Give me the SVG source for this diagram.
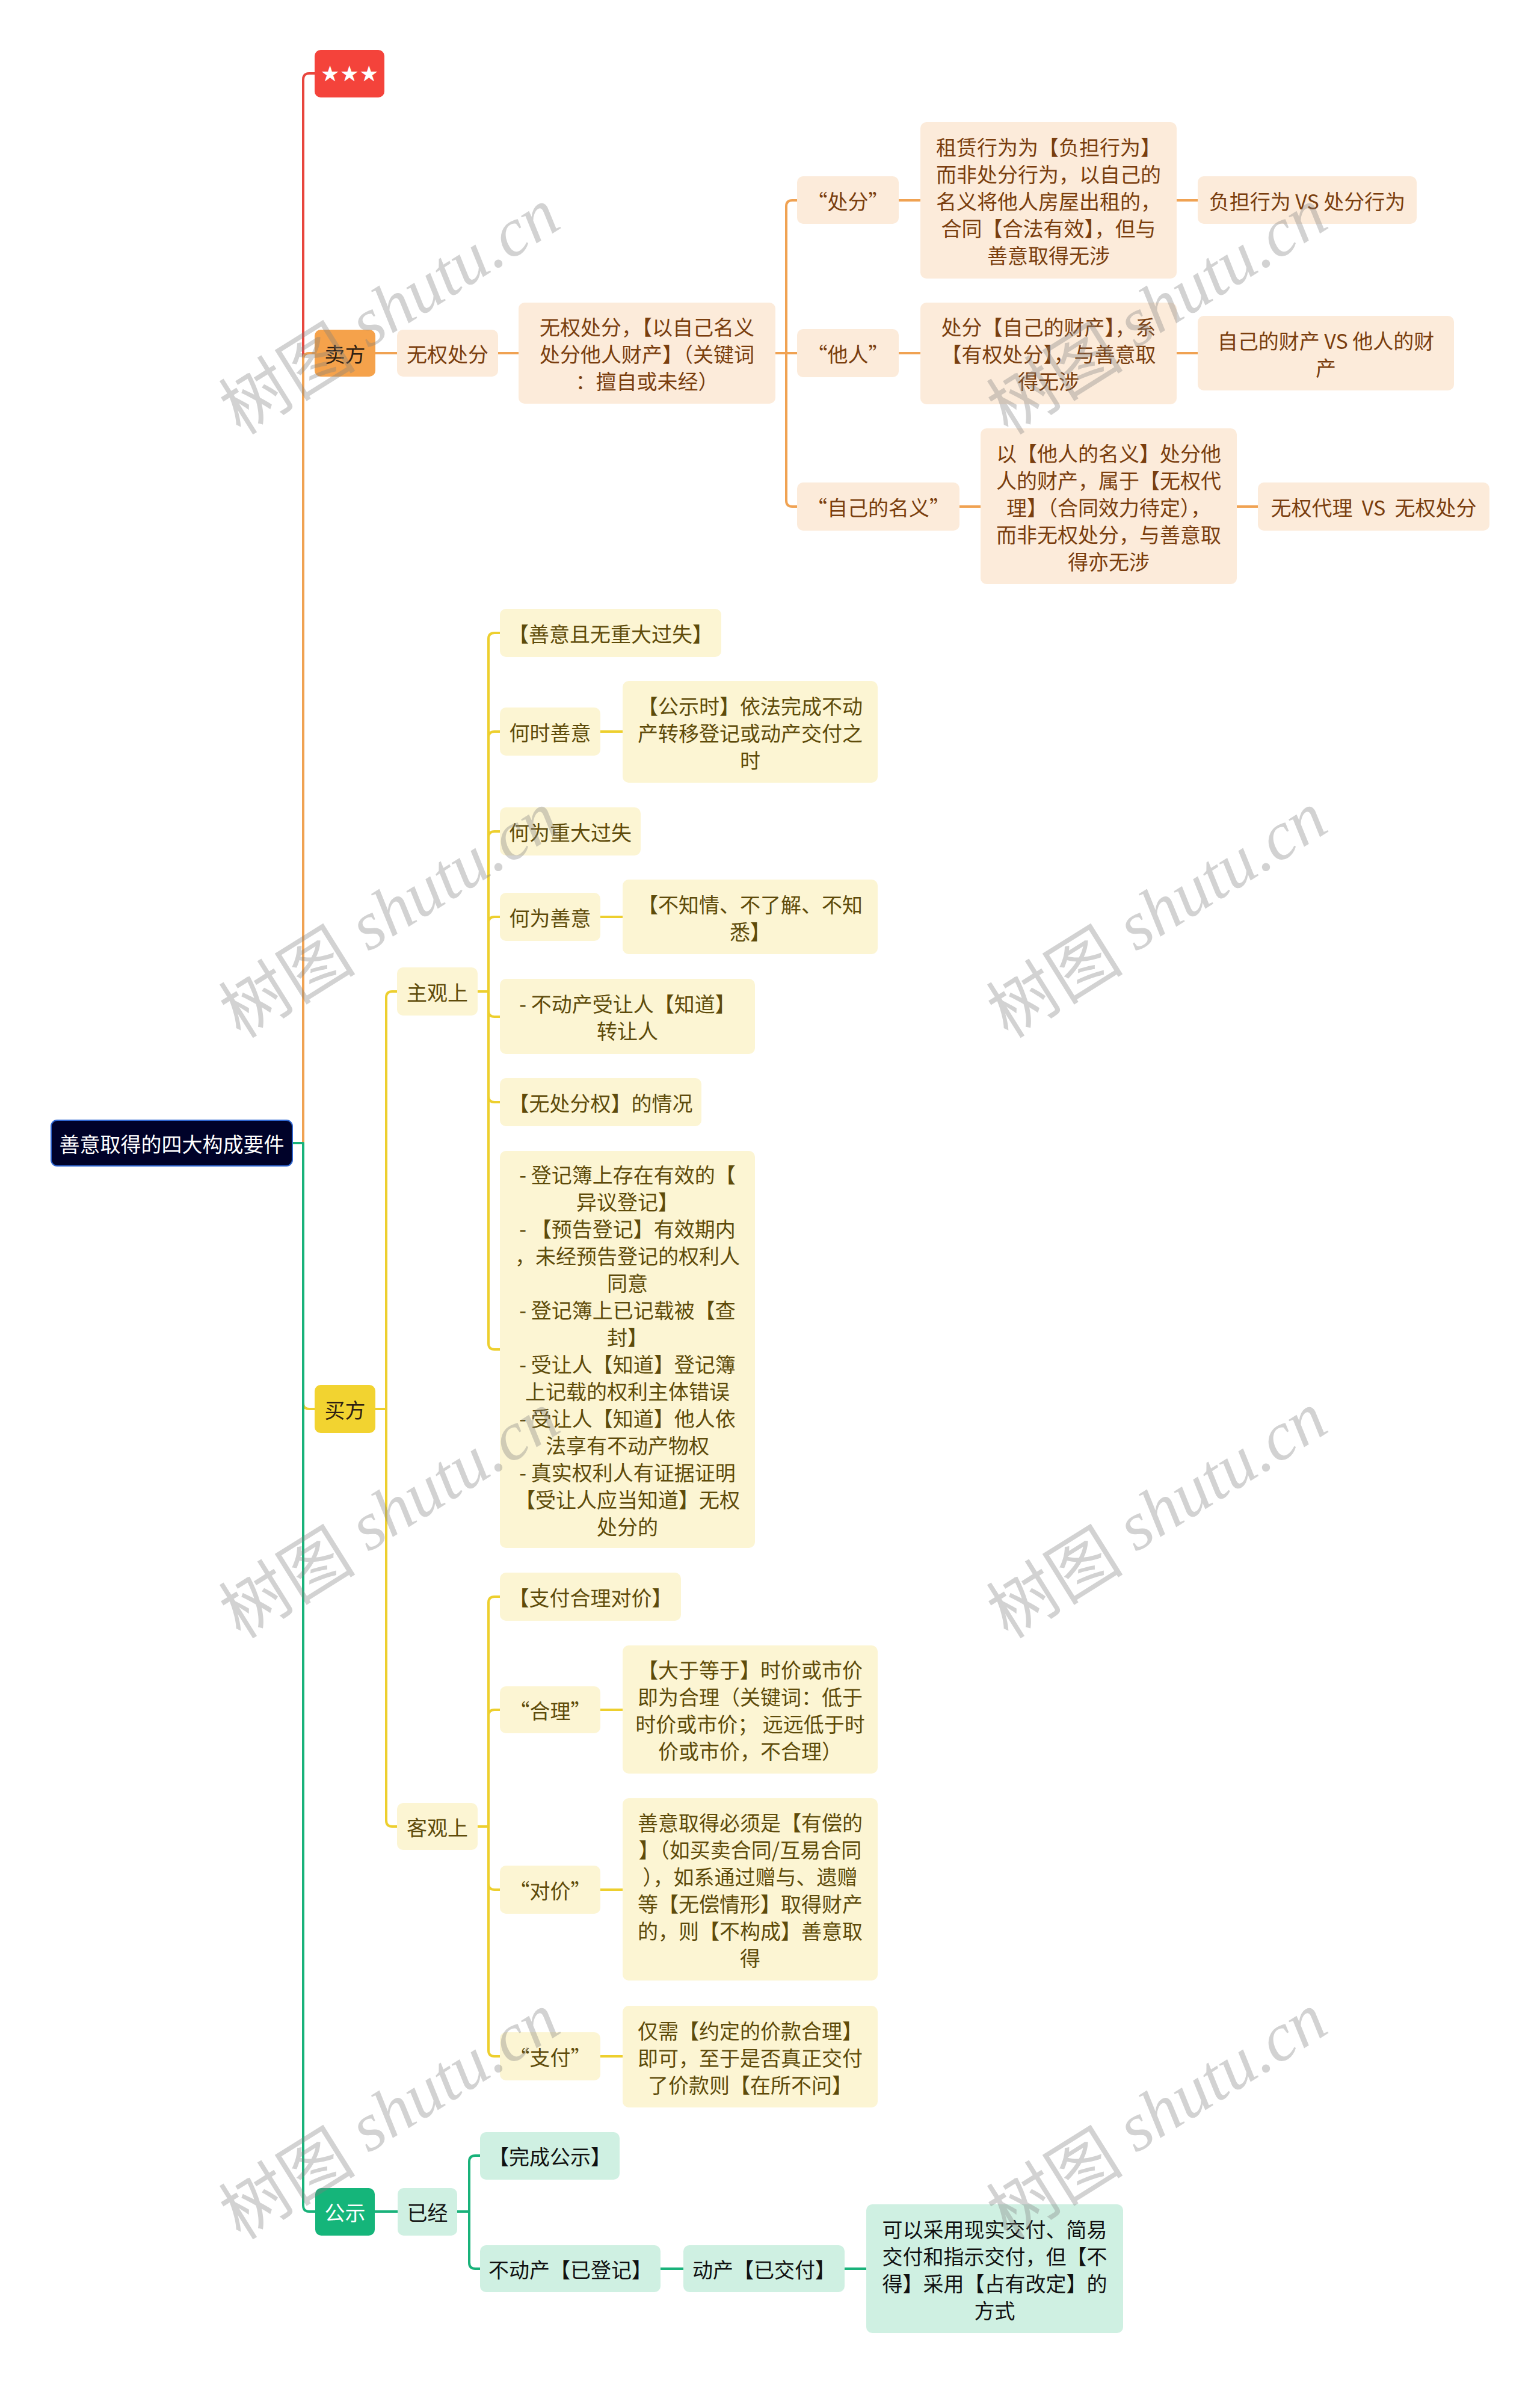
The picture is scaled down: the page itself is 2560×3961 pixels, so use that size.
<svg xmlns="http://www.w3.org/2000/svg" width="2560" height="3961" viewBox="0 0 2560 3961">
<style>
text{font-family:"Noto Sans CJK SC","Noto Sans",sans-serif;font-size:34px;text-anchor:middle;dominant-baseline:central;white-space:pre}
.c{fill:none;stroke-width:4;stroke-linecap:round;stroke-linejoin:round}
.cr{stroke:#E8463D}.co{stroke:#F0A252}.cy{stroke:#EDCF2E}.cg{stroke:#19B27A}
.o1{fill:#F5A24B}.o2{fill:#FCEBDA}.y1{fill:#F2D330}.y2{fill:#FCF5D3}.g1{fill:#15B57A}.g2{fill:#CFF0E2}
.to{fill:#7A3E0E}.ty{fill:#5E4B0A}.tg{fill:#111111}.tk{fill:#2E2012}
.wm{fill:#808080;opacity:0.35;font-size:114px}
</style>
<rect width="2560" height="3961" fill="#ffffff"/>
<g id="connectors">
<path class="c cr" d="M486,1900 H504 V132 Q504,122 514,122 H523"/>
<path class="c co" d="M486,1900 H504 V597 Q504,587 514,587 H523"/>
<path class="c cy" d="M486,1900 H504 V2332 Q504,2342 514,2342 H523"/>
<path class="c cg" d="M486,1900 H504 V3666 Q504,3676 514,3676 H524"/>
<path class="c co" d="M624,587 H660 M828,587 H862 M1289,587 H1325"/>
<path class="c co" d="M1289,587 H1307 V343 Q1307,333 1317,333 H1325"/>
<path class="c co" d="M1289,587 H1307 V832 Q1307,842 1317,842 H1325"/>
<path class="c co" d="M1494,333 H1530 M1956,333 H1991 M1494,587 H1530 M1956,587 H1991 M1595,842 H1630 M2056,842 H2091"/>
<path class="c cy" d="M624,2342 H642 V1658 Q642,1648 652,1648 H660"/>
<path class="c cy" d="M624,2342 H642 V3026 Q642,3036 652,3036 H660"/>
<path class="c cy" d="M794,1648 H812 V1062 Q812,1052 822,1052 H831"/>
<path class="c cy" d="M794,1648 H812 V1226 Q812,1216 822,1216 H831"/>
<path class="c cy" d="M794,1648 H812 V1392 Q812,1382 822,1382 H831"/>
<path class="c cy" d="M794,1648 H812 V1534 Q812,1524 822,1524 H831"/>
<path class="c cy" d="M794,1648 H812 V1680 Q812,1690 822,1690 H831"/>
<path class="c cy" d="M794,1648 H812 V1822 Q812,1832 822,1832 H831"/>
<path class="c cy" d="M794,1648 H812 V2233 Q812,2243 822,2243 H831"/>
<path class="c cy" d="M998,1216 H1035 M998,1524 H1035"/>
<path class="c cy" d="M794,3036 H812 V2664 Q812,2654 822,2654 H831"/>
<path class="c cy" d="M794,3036 H812 V2852 Q812,2842 822,2842 H831"/>
<path class="c cy" d="M794,3036 H812 V3131 Q812,3141 822,3141 H831"/>
<path class="c cy" d="M794,3036 H812 V3408 Q812,3418 822,3418 H831"/>
<path class="c cy" d="M998,2842 H1035 M998,3141 H1035 M998,3418 H1035"/>
<path class="c cg" d="M623,3676 H661"/>
<path class="c cg" d="M760,3676 H780 V3593 Q780,3583 790,3583 H798"/>
<path class="c cg" d="M760,3676 H780 V3761 Q780,3771 790,3771 H798"/>
<path class="c cg" d="M1098,3771 H1136 M1404,3771 H1440"/>
</g>
<g id="root"><rect x="85" y="1862" width="401" height="76" rx="10" fill="#000229" stroke="#2F66D0" stroke-width="2"/><text x="285.5" y="1900" fill="#ffffff">善意取得的四大构成要件</text></g>
<g id="n-star"><rect x="523" y="83" width="116" height="79" rx="10" fill="#F4433B"/><text x="581" y="122" fill="#ffffff" style="font-family:'DejaVu Sans',sans-serif;font-size:36px">★★★</text></g>
<g id="n-seller"><rect class="o1" x="523" y="548" width="101" height="78" rx="10"/><text class="tk" x="573.5" y="587">卖方</text></g>
<g id="n-wqcf"><rect class="o2" x="660" y="548" width="168" height="78" rx="10"/><text class="to" x="744" y="587">无权处分</text></g>
<g id="n-wqcf-def"><rect class="o2" x="862" y="503" width="427" height="168" rx="10"/><text class="to"><tspan x="1075.5" y="542">无权处分，【以自己名义</tspan><tspan x="1075.5" y="587">处分他人财产】（关键词</tspan><tspan x="1075.5" y="632">：擅自或未经）</tspan></text></g>
<g id="n-chufen"><rect class="o2" x="1325" y="293" width="169" height="79" rx="10"/><text class="to" x="1409.5" y="333">“处分”</text></g>
<g id="n-zulin"><rect class="o2" x="1530" y="203" width="426" height="260" rx="10"/><text class="to"><tspan x="1743" y="243">租赁行为为【负担行为】</tspan><tspan x="1743" y="288">而非处分行为，以自己的</tspan><tspan x="1743" y="333">名义将他人房屋出租的，</tspan><tspan x="1743" y="378">合同【合法有效】，但与</tspan><tspan x="1743" y="423">善意取得无涉</tspan></text></g>
<g id="n-fudan"><rect class="o2" x="1991" y="293" width="364" height="79" rx="10"/><text class="to" x="2173" y="333">负担行为 VS 处分行为</text></g>
<g id="n-taren"><rect class="o2" x="1325" y="547" width="169" height="80" rx="10"/><text class="to" x="1409.5" y="587">“他人”</text></g>
<g id="n-own"><rect class="o2" x="1530" y="503" width="426" height="169" rx="10"/><text class="to"><tspan x="1743" y="542">处分【自己的财产】，系</tspan><tspan x="1743" y="587">【有权处分】，与善意取</tspan><tspan x="1743" y="632">得无涉</tspan></text></g>
<g id="n-own-vs"><rect class="o2" x="1991" y="525" width="426" height="124" rx="10"/><text class="to"><tspan x="2204" y="564.5">自己的财产 VS 他人的财</tspan><tspan x="2204" y="609.5">产</tspan></text></g>
<g id="n-mingyi"><rect class="o2" x="1325" y="802" width="270" height="80" rx="10"/><text class="to" x="1460" y="842">“自己的名义”</text></g>
<g id="n-mingyi-def"><rect class="o2" x="1630" y="712" width="426" height="259" rx="10"/><text class="to"><tspan x="1843" y="752">以【他人的名义】处分他</tspan><tspan x="1843" y="797">人的财产，属于【无权代</tspan><tspan x="1843" y="842">理】（合同效力待定），</tspan><tspan x="1843" y="887">而非无权处分，与善意取</tspan><tspan x="1843" y="932">得亦无涉</tspan></text></g>
<g id="n-daili-vs"><rect class="o2" x="2091" y="802" width="385" height="80" rx="10"/><text class="to" x="2283.5" y="842">无权代理  VS  无权处分</text></g>
<g id="n-buyer"><rect class="y1" x="523" y="2302" width="101" height="80" rx="10"/><text class="tk" x="573.5" y="2342">买方</text></g>
<g id="n-zhuguan"><rect class="y2" x="660" y="1608" width="134" height="80" rx="10"/><text class="ty" x="727" y="1648">主观上</text></g>
<g id="n-shanyi"><rect class="y2" x="831" y="1012" width="368" height="80" rx="10"/><text class="ty" x="1015" y="1052">【善意且无重大过失】</text></g>
<g id="n-heshi"><rect class="y2" x="831" y="1176" width="167" height="80" rx="10"/><text class="ty" x="914.5" y="1216">何时善意</text></g>
<g id="n-gongshishi"><rect class="y2" x="1035" y="1132" width="424" height="169" rx="10"/><text class="ty"><tspan x="1247" y="1171.5">【公示时】依法完成不动</tspan><tspan x="1247" y="1216.5">产转移登记或动产交付之</tspan><tspan x="1247" y="1261.5">时</tspan></text></g>
<g id="n-zhongda"><rect class="y2" x="831" y="1342" width="234" height="80" rx="10"/><text class="ty" x="948" y="1382">何为重大过失</text></g>
<g id="n-hewei"><rect class="y2" x="831" y="1484" width="167" height="80" rx="10"/><text class="ty" x="914.5" y="1524">何为善意</text></g>
<g id="n-buzhi"><rect class="y2" x="1035" y="1462" width="424" height="124" rx="10"/><text class="ty"><tspan x="1247" y="1501.5">【不知情、不了解、不知</tspan><tspan x="1247" y="1546.5">悉】</tspan></text></g>
<g id="n-bdc-zhidao"><rect class="y2" x="831" y="1627" width="424" height="125" rx="10"/><text class="ty"><tspan x="1043" y="1667">- 不动产受让人【知道】</tspan><tspan x="1043" y="1712">转让人</tspan></text></g>
<g id="n-wuchufen"><rect class="y2" x="831" y="1792" width="335" height="80" rx="10"/><text class="ty" x="998.5" y="1832">【无处分权】的情况</text></g>
<g id="n-cases"><rect class="y2" x="831" y="1913" width="424" height="660" rx="10"/><text class="ty"><tspan x="1043" y="1950.5">- 登记簿上存在有效的【</tspan><tspan x="1043" y="1995.5">异议登记】</tspan><tspan x="1043" y="2040.5">- 【预告登记】有效期内</tspan><tspan x="1043" y="2085.5">，未经预告登记的权利人</tspan><tspan x="1043" y="2130.5">同意</tspan><tspan x="1043" y="2175.5">- 登记簿上已记载被【查</tspan><tspan x="1043" y="2220.5">封】</tspan><tspan x="1043" y="2265.5">- 受让人【知道】登记簿</tspan><tspan x="1043" y="2310.5">上记载的权利主体错误</tspan><tspan x="1043" y="2355.5">- 受让人【知道】他人依</tspan><tspan x="1043" y="2400.5">法享有不动产物权</tspan><tspan x="1043" y="2445.5">- 真实权利人有证据证明</tspan><tspan x="1043" y="2490.5">【受让人应当知道】无权</tspan><tspan x="1043" y="2535.5">处分的</tspan></text></g>
<g id="n-keguan"><rect class="y2" x="660" y="2997" width="134" height="78" rx="10"/><text class="ty" x="727" y="3036">客观上</text></g>
<g id="n-duijia-main"><rect class="y2" x="831" y="2614" width="301" height="80" rx="10"/><text class="ty" x="981.5" y="2654">【支付合理对价】</text></g>
<g id="n-heli"><rect class="y2" x="831" y="2803" width="167" height="78" rx="10"/><text class="ty" x="914.5" y="2842">“合理”</text></g>
<g id="n-dayu"><rect class="y2" x="1035" y="2735" width="424" height="213" rx="10"/><text class="ty"><tspan x="1247" y="2774">【大于等于】时价或市价</tspan><tspan x="1247" y="2819">即为合理（关键词：低于</tspan><tspan x="1247" y="2864">时价或市价； 远远低于时</tspan><tspan x="1247" y="2909">价或市价，不合理）</tspan></text></g>
<g id="n-duijia"><rect class="y2" x="831" y="3101" width="167" height="80" rx="10"/><text class="ty" x="914.5" y="3141">“对价”</text></g>
<g id="n-youchang"><rect class="y2" x="1035" y="2989" width="424" height="303" rx="10"/><text class="ty"><tspan x="1247" y="3028">善意取得必须是【有偿的</tspan><tspan x="1247" y="3073">】（如买卖合同/互易合同</tspan><tspan x="1247" y="3118">），如系通过赠与、遗赠</tspan><tspan x="1247" y="3163">等【无偿情形】取得财产</tspan><tspan x="1247" y="3208">的，则【不构成】善意取</tspan><tspan x="1247" y="3253">得</tspan></text></g>
<g id="n-zhifu"><rect class="y2" x="831" y="3378" width="167" height="80" rx="10"/><text class="ty" x="914.5" y="3418">“支付”</text></g>
<g id="n-jinxu"><rect class="y2" x="1035" y="3334" width="424" height="169" rx="10"/><text class="ty"><tspan x="1247" y="3373.5">仅需【约定的价款合理】</tspan><tspan x="1247" y="3418.5">即可，至于是否真正交付</tspan><tspan x="1247" y="3463.5">了价款则【在所不问】</tspan></text></g>
<g id="n-gongshi"><rect class="g1" x="524" y="3637" width="99" height="79" rx="10"/><text x="573.5" y="3676.5" fill="#ffffff">公示</text></g>
<g id="n-yijing"><rect class="g2" x="661" y="3637" width="99" height="79" rx="10"/><text class="tg" x="710.5" y="3676.5">已经</text></g>
<g id="n-wancheng"><rect class="g2" x="798" y="3544" width="232" height="79" rx="10"/><text class="tg" x="914" y="3583.5">【完成公示】</text></g>
<g id="n-budongchan"><rect class="g2" x="798" y="3732" width="300" height="78" rx="10"/><text class="tg" x="948" y="3771">不动产【已登记】</text></g>
<g id="n-dongchan"><rect class="g2" x="1136" y="3732" width="268" height="78" rx="10"/><text class="tg" x="1270" y="3771">动产【已交付】</text></g>
<g id="n-jiaofu"><rect class="g2" x="1440" y="3664" width="427" height="214" rx="10"/><text class="tg"><tspan x="1653.5" y="3703.5">可以采用现实交付、简易</tspan><tspan x="1653.5" y="3748.5">交付和指示交付，但【不</tspan><tspan x="1653.5" y="3793.5">得】采用【占有改定】的</tspan><tspan x="1653.5" y="3838.5">方式</tspan></text></g>
<g id="watermarks">
<text class="wm" x="645" y="513" transform="rotate(-32 645 513)">树图<tspan style="font-family:'Liberation Serif',serif;font-style:italic"> shutu.cn</tspan></text>
<text class="wm" x="1921" y="513" transform="rotate(-32 1921 513)">树图<tspan style="font-family:'Liberation Serif',serif;font-style:italic"> shutu.cn</tspan></text>
<text class="wm" x="645" y="1516" transform="rotate(-32 645 1516)">树图<tspan style="font-family:'Liberation Serif',serif;font-style:italic"> shutu.cn</tspan></text>
<text class="wm" x="1921" y="1516" transform="rotate(-32 1921 1516)">树图<tspan style="font-family:'Liberation Serif',serif;font-style:italic"> shutu.cn</tspan></text>
<text class="wm" x="645" y="2514" transform="rotate(-32 645 2514)">树图<tspan style="font-family:'Liberation Serif',serif;font-style:italic"> shutu.cn</tspan></text>
<text class="wm" x="1921" y="2514" transform="rotate(-32 1921 2514)">树图<tspan style="font-family:'Liberation Serif',serif;font-style:italic"> shutu.cn</tspan></text>
<text class="wm" x="645" y="3513" transform="rotate(-32 645 3513)">树图<tspan style="font-family:'Liberation Serif',serif;font-style:italic"> shutu.cn</tspan></text>
<text class="wm" x="1921" y="3513" transform="rotate(-32 1921 3513)">树图<tspan style="font-family:'Liberation Serif',serif;font-style:italic"> shutu.cn</tspan></text>
</g>
</svg>
